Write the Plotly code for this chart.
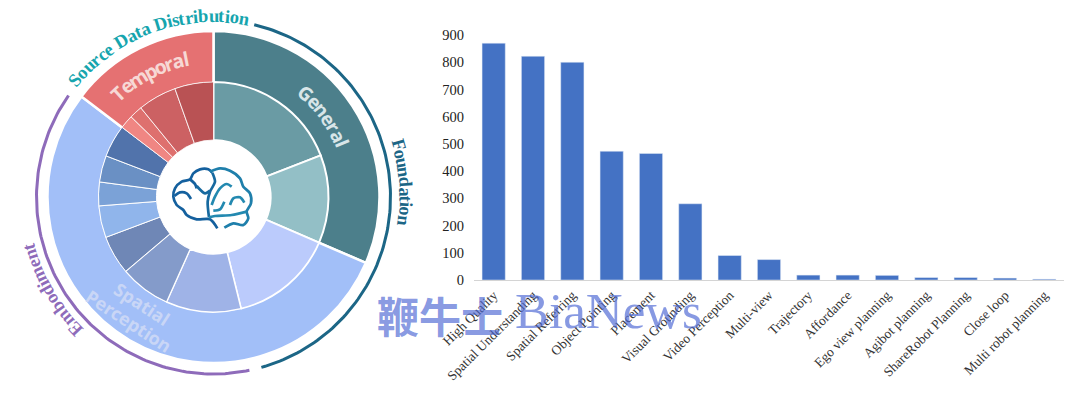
import math
import plotly.graph_objects as go

# ---- Bar chart data
categories = ["High Quality", "Spatial Understanding", "Spatial Referring", "Object Pointing",
              "Placement", "Visual Grounding", "Video Perception", "Multi-view", "Trajectory",
              "Affordance", "Ego view planning", "Agibot planning", "ShareRobot Planning",
              "Close loop", "Multi robot planning"]
counts = [870, 822, 800, 473, 465, 280, 90, 75, 18, 18, 17, 9, 9, 7, 3]
y_ticks = [0, 100, 200, 300, 400, 500, 600, 700, 800, 900]

# ---- Donut data (shares)
outer_names = ["General", "Spatial Perception", "Temporal"]
outer_values = [113.4, 193.9, 52.7]
outer_colors = ["#4C7F8B", "#A2BFF8", "#E57172"]

inner_values = [68.8, 44.6, 52.8, 38.0, 25.7, 19.7, 16.1, 12.0, 13.4, 16.4,
                6.9, 6.6, 19.6, 19.6]
inner_colors = ["#6A9BA4", "#93BFC6", "#BBCBFC", "#9FB3E7", "#849BCA", "#6F87B6",
                "#90B5EB", "#7BA2D7", "#6A90C4", "#5173AB",
                "#F08683", "#DE706E", "#CC6163", "#B95254"]
inner_edges = [2, 2, 1.8, 1.5, 1.2, 1, 1, 1, 1, 1, 0.8, 0.8, 0.8, 0.8]

W, H = 1080, 394
CX, CY = 213.5, 197.0

fig = go.Figure()

def dom(x0, x1, y0, y1):
    return dict(x=[x0 / W, x1 / W], y=[1 - y1 / H, 1 - y0 / H])

fig.add_trace(go.Pie(values=outer_values, labels=outer_names, marker=dict(colors=outer_colors, line=dict(color="white", width=2.5)),
                     hole=114.0 / 166.0, sort=False, direction="clockwise", rotation=0, textinfo="none",
                     showlegend=False, domain=dom(CX - 166, CX + 166, CY - 166, CY + 166), hoverinfo="skip"))
fig.add_trace(go.Pie(values=inner_values, marker=dict(colors=inner_colors, line=dict(color="white", width=inner_edges)),
                     hole=57.0 / 115.0, sort=False, direction="clockwise", rotation=0, textinfo="none",
                     showlegend=False, domain=dom(CX - 115, CX + 115, CY - 115, CY + 115), hoverinfo="skip"))

fig.add_trace(go.Bar(x=categories, y=counts, marker=dict(color="#4472C4"), width=0.59, showlegend=False))

# Overlay axes in pixel units for decoration
def polar(theta, r):
    t = math.radians(theta)
    return CX + r * math.sin(t), CY - r * math.cos(t)

def arc(t0, t1, r, color, width):
    n = 120
    pts = [polar(t0 + (t1 - t0) * i / n, r) for i in range(n + 1)]
    fig.add_trace(go.Scatter(x=[p[0] for p in pts], y=[p[1] for p in pts], mode="lines", xaxis="x2", yaxis="y2",
                             line=dict(color=color, width=width), showlegend=False, hoverinfo="skip"))

arc(13.3, 164.3, 177, "#1C6686", 3)
arc(-55.0, -191.7, 177, "#8E6BBA", 3)

# Brain icon strokes, in crop-relative units
BRAIN_ORIGIN = (165, 160)
brain = [
    ("#14609E", [(157, 205), (135, 178), (95, 178), (65, 165), (55, 150), (35, 135), (25, 110), (30, 85),
                 (50, 65), (75, 58), (85, 40), (105, 28), (130, 28), (142, 38)]),
    ("#1F7FAB", [(135, 35), (165, 25), (195, 32), (225, 55), (235, 80), (255, 100), (258, 130), (245, 155),
                 (250, 175), (235, 195), (205, 190), (178, 203)]),
    ("#17699F", [(142, 38), (150, 65), (135, 95), (128, 125), (132, 172)]),
    ("#14609E", [(75, 58), (90, 72), (95, 85)]),
    ("#17699F", [(95, 78), (120, 100), (135, 92)]),
    ("#14609E", [(28, 108), (45, 97), (65, 100), (78, 117)]),
    ("#2389B0", [(140, 135), (150, 110), (165, 85), (185, 72), (200, 80)]),
    ("#2389B0", [(195, 135), (205, 115), (225, 112), (238, 128)]),
    ("#2389B0", [(145, 152), (165, 148), (178, 125)]),
    ("#2389B0", [(245, 155), (200, 165), (150, 168), (132, 172)]),
]
for col, stroke in brain:
    fig.add_trace(go.Scatter(x=[BRAIN_ORIGIN[0] + p[0] / 3 for p in stroke],
                             y=[BRAIN_ORIGIN[1] + p[1] / 3 for p in stroke],
                             mode="lines", line=dict(color=col, width=2.7, shape="spline", smoothing=0.8),
                             xaxis="x2", yaxis="y2", showlegend=False, hoverinfo="skip"))

# Curved text
TIMES_BOLD = dict(S=556, o=500, u=556, r=444, c=444, e=444, D=722, a=500, t=333, i=278, s=389, b=556, n=556,
                  F=611, d=556, m=833, E=667, p=556, l=278, G=778, T=667)
TIMES_BOLD[" "] = 250
annos = []

def curved(text, t0, t1, r, color, size, family, bold=True):
    w = [TIMES_BOLD.get(ch, 500) for ch in text]
    total = sum(w)
    pos = 0
    for ch, cw in zip(text, w):
        frac = (pos + cw / 2) / total
        th = t0 + (t1 - t0) * frac
        x, y = polar(th, r)
        pos += cw
        if ch == " ":
            continue
        annos.append(dict(x=x, y=y, xref="x2", yref="y2", text=f"<b>{ch}</b>" if bold else ch, showarrow=False,
                          textangle=th, xanchor="center", yanchor="middle",
                          font=dict(family=family, size=size, color=color)))

SERIF = "Liberation Serif"
SANS = "Open Sans"
curved("Source Data Distribution", -51.5, 11.5, 181, "#16A5AE", 18.5, SERIF)
curved("Foundation", 72.5, 98.5, 192, "#1C6686", 18.5, SERIF)
curved("Embodiment", 224.5, 256.0, 191, "#8E6BBA", 18.5, SERIF)
curved("General", 38.0, 68.5, 139, "#D8E5E8", 19, SANS)
curved("Temporal", -45.5, -10.0, 141, "#F7D8D5", 19.5, SANS)

def straight(text, x, y, angle, color, size, family=SANS):
    annos.append(dict(x=x, y=y, xref="x2", yref="y2", text=f"<b>{text}</b>", showarrow=False, textangle=angle,
                      xanchor="center", yanchor="middle", font=dict(family=family, size=size, color=color)))

straight("Spatial", 142, 304, 33, "#C9D6F6", 18)
straight("Perception", 129, 321, 33, "#C9D6F6", 18)

# Watermark
annos.append(dict(x=440, y=314, xref="x2", yref="y2", text="<b>鞭牛士</b>", showarrow=False, xanchor="center", yanchor="middle",
                  font=dict(family="Noto Sans CJK SC", size=42, color="rgba(78,104,212,0.68)")))
annos.append(dict(x=608.5, y=311, xref="x2", yref="y2", text="BiaNews", showarrow=False, xanchor="center", yanchor="middle",
                  font=dict(family=SERIF, size=51, color="rgba(78,104,212,0.68)")))

fig.update_layout(
    width=W, height=H, autosize=False, margin=dict(l=0, r=0, t=0, b=0, pad=0),
    paper_bgcolor="white", plot_bgcolor="rgba(0,0,0,0)", bargap=0.41, annotations=annos,
    font=dict(family=SERIF, color="#222222"),
    xaxis=dict(domain=[474 / W, 1064 / W], type="category", range=[-0.5, 14.5], tickangle=-45, automargin=False,
               tickfont=dict(family=SERIF, size=13.5, color="#333333"), showline=True, linecolor="#D4D4D4", linewidth=1,
               ticks="", showgrid=False, zeroline=False, anchor="y", ticklabelstandoff=1),
    yaxis=dict(domain=[1 - 280 / H, 1 - 35 / H], range=[0, 900], tickvals=y_ticks, showline=False, showgrid=False,
               automargin=False, zeroline=False, ticks="", tickfont=dict(family=SERIF, size=14.5, color="#222222"),
               anchor="x", ticklabelstandoff=9),
    xaxis2=dict(domain=[0, 1], range=[0, W], visible=False, anchor="y2", automargin=False),
    yaxis2=dict(domain=[0, 1], range=[H, 0], visible=False, anchor="x2", automargin=False),
)

fig.write_html("out.html", post_script="document.body.style.margin='0';document.body.style.overflow='hidden';",
               config=dict(displayModeBar=False))
